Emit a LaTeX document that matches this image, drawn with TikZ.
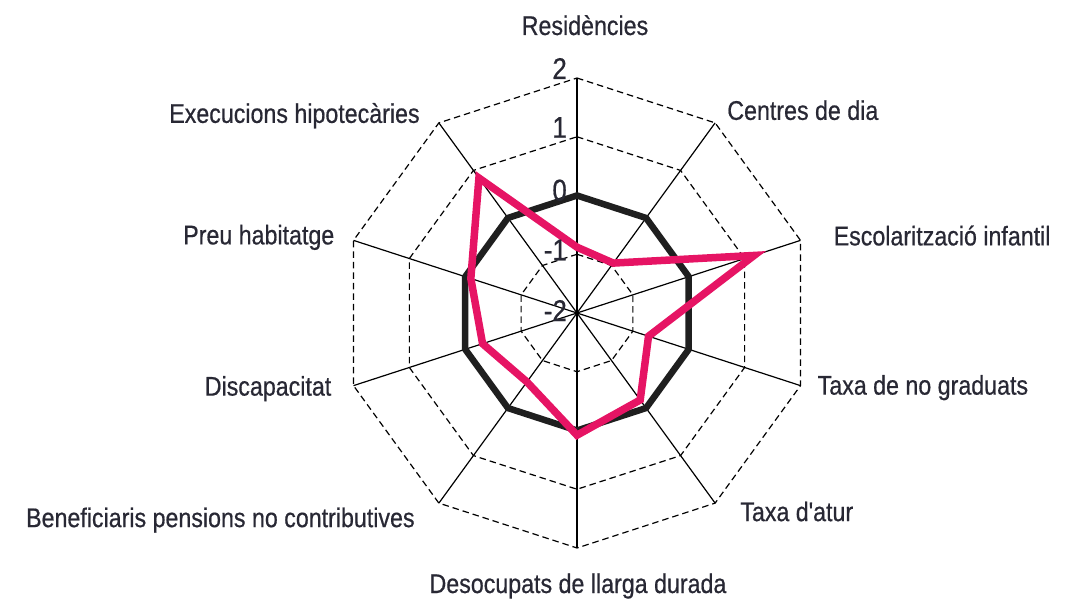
\documentclass[tikz,border=0pt]{standalone}
\usepackage{fontspec}
\newfontfamily\chartfont{Liberation Sans}[FakeStretch=0.86, FakeBold=0.6]
\usetikzlibrary{positioning}

\definecolor{textgray}{RGB}{40,40,52}
\definecolor{radarpink}{RGB}{230,20,100}

\tikzset{every node/.style = {inner sep = 0, text = textgray},
  AxisLabel/.style = {font = \chartfont\fontsize{27}{30}\selectfont},
  TickLabel/.style = {font = \chartfont\fontsize{30}{32}\selectfont, anchor = base east},
  RingStyle/.style = {dash pattern = on 6.5pt off 4pt, line width = 1.2pt},
  AxisStyle/.style = {line width = 1.2pt},
  MeanStyle/.style = {line width = 6.5pt, black!88, line join = miter},
  ValueStyle/.style = {line width = 7.5pt, radarpink, line join = miter}}

\begin{document}
\begin{tikzpicture}[x = 1pt, y = 1pt]
\useasboundingbox (-577,-287) rectangle (492,313);

% ring spacing 58.75, value v sits at (v+2)*58.75
\coordinate (O) at (0,0);
\foreach \i in {0,...,9}
  \coordinate (ax\i) at ({90-36*\i}:235);

% dashed rings
\foreach \r in {58.75, 117.5, 176.25, 235}
  \draw[RingStyle] (90:\r) \foreach \i in {1,...,9} { -- ({90-36*\i}:\r) } -- cycle;

% axes
\foreach \i in {0,...,9}
  \draw[AxisStyle] (O) -- (ax\i);

% mean profile (value 0)
\draw[MeanStyle] (90:117.5) \foreach \i in {1,...,9} { -- ({90-36*\i}:117.5) } -- cycle;

% district profile
\draw[ValueStyle] \foreach \v [count = \i from 0] in
  {-0.88, -0.95, 1.17, -0.72, -0.17, 0.08, -0.55, -0.31, -0.10, 0.84}
  { \ifnum\i=0 ({90}:{(\v+2)*58.75}) \else -- ({90-36*\i}:{(\v+2)*58.75}) \fi }
  -- cycle;

% scale
\foreach \v/\dy in {2/1, 1/1, 0/5, -1/6, -2/8}
  \node[TickLabel] (tick\v) at ([xshift=-10pt, yshift=-\dy pt] 0,{(\v+2)*58.75}) {\v};

% axis labels
\node[AxisLabel, anchor = base]      (res) at ([shift={(8,43)}]ax0)    {Residències};
\node[AxisLabel, anchor = base west] (cen) at ([shift={(12,3)}]ax1)    {Centres de dia};
\node[AxisLabel, anchor = base west] (esc) at ([shift={(33,-5)}]ax2)   {Escolarització infantil};
\node[AxisLabel, anchor = base west] (gra) at ([shift={(17,-9)}]ax3)   {Taxa de no graduats};
\node[AxisLabel, anchor = base west] (atu) at ([shift={(25,-18)}]ax4)  {Taxa d'atur};
\node[AxisLabel, anchor = base]      (des) at ([shift={(1,-45)}]ax5)   {Desocupats de llarga durada};
\node[AxisLabel, anchor = base east] (ben) at ([shift={(-24,-24)}]ax6) {Beneficiaris pensions no contributives};
\node[AxisLabel, anchor = base east] (dis) at ([shift={(-22,-10)}]ax7) {Discapacitat};
\node[AxisLabel, anchor = base east] (pre) at ([shift={(-19,-4)}]ax8)  {Preu habitatge};
\node[AxisLabel, anchor = base east] (exe) at ([shift={(-19,0)}]ax9)   {Execucions hipotecàries};

\end{tikzpicture}
\end{document}
